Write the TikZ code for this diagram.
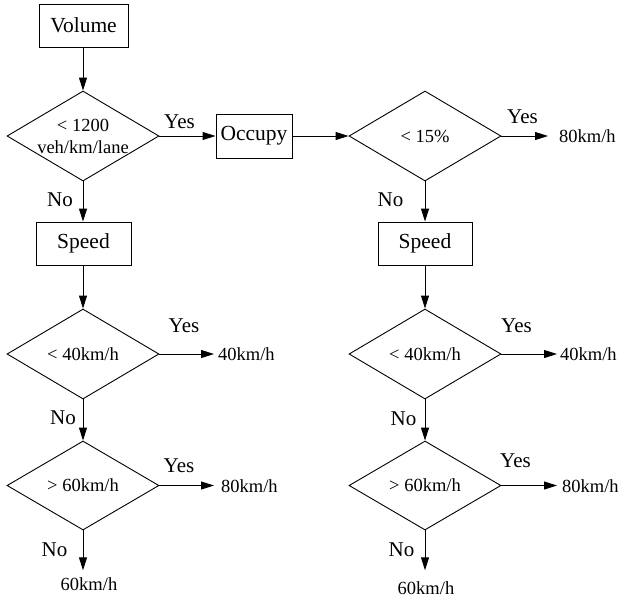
\documentclass[tikz,border=0pt]{standalone}
\usepackage{fontspec}
\setmainfont{Liberation Serif}
\usetikzlibrary{shapes.geometric,arrows.meta}
\begin{document}
\begin{tikzpicture}[x=1pt,y=-1pt,
  box/.style={draw,line width=0.9pt,inner sep=0pt,font=\fontsize{21.5}{24}\selectfont},
  dec/.style={draw,diamond,aspect=1.69,inner sep=-4pt,minimum width=152pt,minimum height=90pt,line width=0.9pt,font=\fontsize{18.5}{22}\selectfont,align=center},
  lbl/.style={inner sep=0pt,font=\fontsize{21}{24}\selectfont},
  res/.style={inner sep=0pt,font=\fontsize{18.5}{22}\selectfont},
  arr/.style={line width=0.9pt,-{Triangle[length=13pt,width=8pt]}}]
\useasboundingbox (0,0) rectangle (620,598);
% boxes
\node[box,minimum width=89pt,minimum height=43pt] (vol) at (83.5,25.5) {Volume};
\node[box,minimum width=76pt,minimum height=44pt] (occ) at (254,136) {Occupy};
\node[box,minimum width=95pt,minimum height=43pt] (sp1) at (83.5,243.5) {Speed};
\node[box,minimum width=94pt,minimum height=43pt] (sp2) at (425,243.5) {Speed};
% decisions
\node[dec] (d1) at (83,136) {< 1200\\veh/km/lane};
\node[dec] (d2) at (425,136) {< 15\%};
\node[dec] (d3L) at (83,354) {< 40km/h};
\node[dec,minimum height=89pt] (d4L) at (83,485.5) {> 60km/h};
\node[dec] (d3R) at (425,354) {< 40km/h};
\node[dec,minimum height=89pt] (d4R) at (425,485.5) {> 60km/h};
% results
\node[res,anchor=west] (o1) at (559,136) {80km/h};
\node[res,anchor=west] (o2) at (218,354.5) {40km/h};
\node[res,anchor=west] (o3) at (221,486) {80km/h};
\node[res] (o4) at (89,584) {60km/h};
\node[res,anchor=west] (o5) at (560,354.5) {40km/h};
\node[res,anchor=west] (o6) at (562,486) {80km/h};
\node[res] (o7) at (426,588) {60km/h};
% yes/no labels
\node[lbl] (y1) at (179.5,121.5) {Yes};
\node[lbl] (n1) at (60,200) {No};
\node[lbl] (y2) at (522.5,117) {Yes};
\node[lbl] (n2) at (390.5,199.5) {No};
\node[lbl] (y3) at (184,326) {Yes};
\node[lbl] (n3) at (63,417.5) {No};
\node[lbl] (y4) at (179,465.5) {Yes};
\node[lbl] (n4) at (54.5,549.5) {No};
\node[lbl] (y5) at (516.5,326) {Yes};
\node[lbl] (n5) at (403.5,418.5) {No};
\node[lbl] (y6) at (515.5,461) {Yes};
\node[lbl] (n6) at (401.5,549.5) {No};
% connectors
\draw[arr] (vol.south -| d1.north) -- (d1.north);
\draw[arr] (d1.east) -- (occ.west);
\draw[arr] (occ.east) -- (d2.west);
\draw[arr,shorten >=11pt] (d2.east) -- (o1.west);
\draw[arr] (d1.south) -- (d1.south |- sp1.north);
\draw[arr] (d1.south |- sp1.south) -- (d3L.north);
\draw[arr,shorten >=4pt] (d3L.east) -- (d3L.east -| o2.west);
\draw[arr] (d3L.south) -- (d4L.north);
\draw[arr,shorten >=7pt] (d4L.east) -- (d4L.east -| o3.west);
\draw[arr,shorten >=7pt] (d4L.south) -- (d4L.south |- o4.north);
\draw[arr] (d2.south) -- (d2.south |- sp2.north);
\draw[arr] (d2.south |- sp2.south) -- (d3R.north);
\draw[arr,shorten >=3pt] (d3R.east) -- (d3R.east -| o5.west);
\draw[arr] (d3R.south) -- (d4R.north);
\draw[arr,shorten >=5pt] (d4R.east) -- (d4R.east -| o6.west);
\draw[arr,shorten >=11pt] (d4R.south) -- (d4R.south |- o7.north);
\end{tikzpicture}
\end{document}
